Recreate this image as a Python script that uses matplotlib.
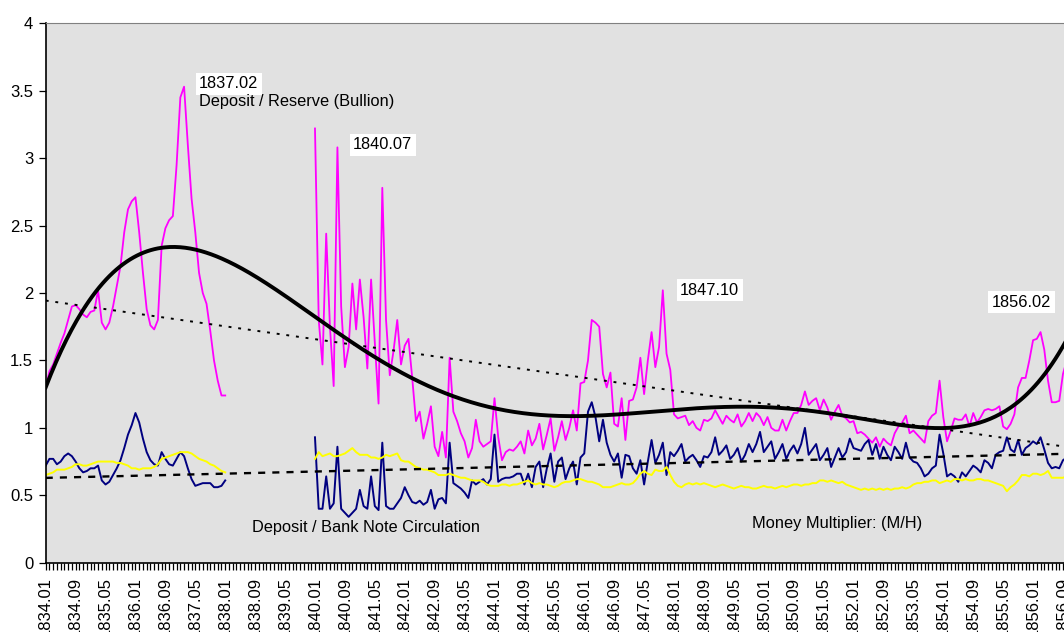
import numpy as np
import matplotlib.pyplot as plt

plt.rcParams['font.family'] = ['Liberation Sans', 'DejaVu Sans']

# monthly data, 1834.01 - 1838.01 and 1840.01 - 1856.10 (gap in between)
reserve_a = [1.30, 1.42, 1.47, 1.55, 1.63, 1.70, 1.80, 1.90, 1.91, 1.88,
             1.84, 1.82, 1.86, 1.87, 2.02, 1.78, 1.73, 1.78, 1.90, 2.05,
             2.20, 2.45, 2.62, 2.68, 2.71, 2.45, 2.15, 1.88, 1.76, 1.73,
             1.80, 2.35, 2.48, 2.54, 2.57, 2.95, 3.45, 3.53, 3.10, 2.70,
             2.45, 2.15, 2.00, 1.92, 1.72, 1.50, 1.35, 1.24, 1.24]
reserve_b = [3.22, 1.80, 1.47, 2.44, 1.75, 1.31, 3.08, 1.90, 1.45, 1.60,
             2.07, 1.73, 2.10, 1.82, 1.44, 2.10, 1.63, 1.18, 2.78, 1.80,
             1.39, 1.57, 1.80, 1.47, 1.61, 1.66, 1.37, 1.05, 1.12, 0.92,
             1.03, 1.16, 0.86, 0.79, 0.97, 0.78, 1.52, 1.12, 1.05, 0.96,
             0.90, 0.78, 0.85, 1.06, 0.90, 0.86, 0.88, 0.90, 1.22, 0.93,
             0.76, 0.82, 0.84, 0.83, 0.86, 0.90, 0.81, 0.98, 0.87, 0.92,
             1.03, 0.84, 0.95, 1.07, 0.83, 0.93, 1.05, 0.91, 1.00, 1.13,
             0.98, 1.33, 1.34, 1.50, 1.80, 1.78, 1.75, 1.40, 1.30, 1.41,
             1.03, 1.01, 1.22, 0.91, 1.20, 1.21, 1.30, 1.52, 1.25, 1.50,
             1.71, 1.45, 1.60, 2.02, 1.55, 1.43, 1.10, 1.07, 1.08, 1.09,
             1.02, 1.05, 1.00, 0.98, 1.06, 1.05, 1.07, 1.13, 1.08, 1.03,
             1.09, 1.06, 1.04, 1.10, 1.01, 1.05, 1.11, 1.05, 1.11, 1.08,
             1.02, 1.08, 1.00, 0.98, 0.98, 1.06, 0.98, 1.05, 1.11, 1.11,
             1.17, 1.27, 1.17, 1.20, 1.22, 1.13, 1.21, 1.15, 1.06, 1.12,
             1.17, 1.09, 1.07, 1.04, 1.05, 0.96, 0.97, 0.95, 0.92, 0.89,
             0.93, 0.86, 0.92, 0.89, 0.87, 0.96, 1.01, 1.04, 1.09, 0.96,
             0.98, 0.95, 0.92, 0.89, 1.05, 1.09, 1.11, 1.35, 1.08, 0.90,
             0.98, 1.07, 1.06, 1.06, 1.10, 1.01, 1.11, 1.04, 1.08, 1.13,
             1.14, 1.13, 1.14, 1.16, 1.01, 0.99, 1.03, 1.10, 1.30, 1.37,
             1.37, 1.50, 1.65, 1.66, 1.71, 1.58, 1.35, 1.19, 1.19, 1.20,
             1.40, 1.50]

notes_a = [0.72, 0.77, 0.77, 0.73, 0.75, 0.79, 0.81, 0.79, 0.75, 0.70,
           0.67, 0.68, 0.70, 0.70, 0.72, 0.61, 0.58, 0.60, 0.65, 0.70,
           0.76, 0.85, 0.95, 1.02, 1.11, 1.04, 0.92, 0.82, 0.76, 0.73,
           0.72, 0.82, 0.77, 0.73, 0.72, 0.77, 0.82, 0.79, 0.70, 0.62,
           0.57, 0.58, 0.59, 0.59, 0.59, 0.56, 0.56, 0.57, 0.61]
notes_b = [0.93, 0.40, 0.40, 0.64, 0.40, 0.44, 0.86, 0.40, 0.37, 0.34,
           0.37, 0.40, 0.54, 0.42, 0.40, 0.64, 0.42, 0.39, 0.89, 0.42,
           0.40, 0.40, 0.44, 0.48, 0.56, 0.50, 0.45, 0.44, 0.46, 0.43,
           0.45, 0.54, 0.40, 0.47, 0.48, 0.44, 0.89, 0.59, 0.57, 0.55,
           0.52, 0.48, 0.61, 0.58, 0.60, 0.62, 0.58, 0.62, 0.95, 0.60,
           0.62, 0.63, 0.63, 0.64, 0.66, 0.66, 0.58, 0.66, 0.56, 0.71,
           0.75, 0.56, 0.70, 0.81, 0.60, 0.75, 0.78, 0.62, 0.70, 0.75,
           0.58, 0.78, 0.81, 1.12, 1.19, 1.08, 0.90, 1.06, 0.89, 0.80,
           0.75, 0.81, 0.63, 0.80, 0.79, 0.70, 0.66, 0.76, 0.58, 0.75,
           0.91, 0.74, 0.80, 0.89, 0.65, 0.82, 0.79, 0.83, 0.88, 0.75,
           0.78, 0.80, 0.76, 0.71, 0.79, 0.78, 0.82, 0.93, 0.80, 0.83,
           0.87, 0.77, 0.80, 0.85, 0.75, 0.80, 0.88, 0.82, 0.88, 0.97,
           0.82, 0.86, 0.90, 0.77, 0.82, 0.88, 0.77, 0.83, 0.87, 0.81,
           0.88, 1.00, 0.80, 0.84, 0.88, 0.76, 0.80, 0.85, 0.71, 0.78,
           0.85, 0.78, 0.82, 0.92, 0.85, 0.84, 0.83, 0.88, 0.91, 0.80,
           0.88, 0.77, 0.86, 0.80, 0.76, 0.86, 0.82, 0.77, 0.89, 0.78,
           0.75, 0.74, 0.70, 0.64, 0.66, 0.70, 0.72, 0.95, 0.81, 0.64,
           0.66, 0.64, 0.60, 0.67, 0.64, 0.68, 0.72, 0.70, 0.67, 0.76,
           0.74, 0.70, 0.80, 0.82, 0.83, 0.93, 0.84, 0.82, 0.91, 0.80,
           0.85, 0.87, 0.90, 0.88, 0.93, 0.84, 0.74, 0.70, 0.71, 0.70,
           0.76, 0.78]

mult_a = [0.65, 0.66, 0.67, 0.69, 0.69, 0.69, 0.70, 0.71, 0.73, 0.73,
          0.72, 0.72, 0.73, 0.74, 0.75, 0.75, 0.75, 0.75, 0.75, 0.74,
          0.74, 0.73, 0.72, 0.70, 0.70, 0.69, 0.70, 0.70, 0.70, 0.71,
          0.73, 0.77, 0.78, 0.79, 0.80, 0.81, 0.82, 0.82, 0.82, 0.81,
          0.79, 0.77, 0.76, 0.75, 0.73, 0.72, 0.70, 0.68, 0.67]
mult_b = [0.77, 0.82, 0.79, 0.80, 0.81, 0.79, 0.79, 0.80, 0.81, 0.83,
          0.85, 0.82, 0.80, 0.80, 0.80, 0.78, 0.78, 0.77, 0.78, 0.80,
          0.79, 0.80, 0.81, 0.76, 0.75, 0.75, 0.73, 0.71, 0.70, 0.69,
          0.69, 0.68, 0.67, 0.65, 0.65, 0.65, 0.66, 0.65, 0.64, 0.63,
          0.63, 0.62, 0.61, 0.61, 0.61, 0.60, 0.58, 0.57, 0.57, 0.57,
          0.58, 0.58, 0.57, 0.58, 0.58, 0.59, 0.60, 0.61, 0.59, 0.58,
          0.59, 0.58, 0.58, 0.57, 0.56, 0.57, 0.59, 0.60, 0.60, 0.61,
          0.62, 0.62, 0.61, 0.60, 0.60, 0.59, 0.58, 0.56, 0.56, 0.56,
          0.57, 0.58, 0.59, 0.58, 0.58, 0.59, 0.62, 0.66, 0.68, 0.66,
          0.65, 0.69, 0.68, 0.68, 0.71, 0.65, 0.60, 0.57, 0.56, 0.58,
          0.59, 0.58, 0.59, 0.58, 0.59, 0.58, 0.57, 0.56, 0.57, 0.58,
          0.57, 0.56, 0.55, 0.56, 0.57, 0.56, 0.56, 0.55, 0.55, 0.56,
          0.57, 0.56, 0.56, 0.55, 0.56, 0.57, 0.56, 0.57, 0.58, 0.58,
          0.57, 0.58, 0.58, 0.59, 0.59, 0.61, 0.61, 0.60, 0.61, 0.60,
          0.59, 0.60, 0.58, 0.57, 0.56, 0.55, 0.54, 0.55, 0.54, 0.55,
          0.54, 0.55, 0.54, 0.55, 0.54, 0.55, 0.55, 0.56, 0.55, 0.56,
          0.58, 0.59, 0.59, 0.60, 0.60, 0.61, 0.61, 0.59, 0.60, 0.61,
          0.60, 0.62, 0.62, 0.61, 0.62, 0.61, 0.61, 0.62, 0.62, 0.61,
          0.61, 0.60, 0.59, 0.58, 0.57, 0.53, 0.56, 0.58, 0.61, 0.65,
          0.65, 0.64, 0.66, 0.66, 0.65, 0.66, 0.68, 0.63, 0.63, 0.63,
          0.63, 0.64]

gap = 23  # 1838.02 - 1839.12 missing
n_cat = 276

def join(a, b):
    return np.array(a + [np.nan] * gap + b, dtype=float)

reserve = join(reserve_a, reserve_b)
notes = join(notes_a, notes_b)
mult = join(mult_a, mult_b)
x = np.arange(len(reserve))

months = ['%d.%02d' % (1834 + k // 12, k % 12 + 1) for k in range(n_cat)]

fig = plt.figure(figsize=(10.64, 6.32), dpi=100)
ax = fig.add_axes([45.7 / 1064, 69.3 / 632, n_cat * 3.74 / 1064, 539.4 / 632])
ax.set_facecolor('#e1e1e1')

ax.plot(x, reserve, color='#ff00ff', lw=1.3)
ax.plot(x, notes, color='#000080', lw=1.4)
ax.plot(x, mult, color='#ffff00', lw=1.4)

# trendlines
ok = ~np.isnan(reserve)
xt = np.linspace(0, n_cat, 600)
poly = np.polyfit(x[ok], reserve[ok], 6)
ax.plot(xt, np.polyval(poly, xt), color='black', lw=2.8)
lin = np.polyfit(x[ok], reserve[ok], 1)
ax.plot(xt, np.polyval(lin, xt), color='black', lw=1.4, ls=(0, (1.5, 3.5)))
ok2 = ~np.isnan(notes)
lin2 = np.polyfit(x[ok2], notes[ok2], 1)
ax.plot(xt, np.polyval(lin2, xt), color='black', lw=1.7, ls=(0, (3, 3)))

ax.set_xlim(0, n_cat)
ax.set_ylim(0, 4)
ax.set_yticks(np.arange(0, 4.01, 0.5))
ax.set_yticklabels(['0', '0.5', '1', '1.5', '2', '2.5', '3', '3.5', '4'])
ax.set_xticks(np.arange(0, n_cat, 8))
ax.set_xticklabels(months[::8], rotation=90)
ax.set_xticks(np.arange(n_cat), minor=True)
ax.tick_params(axis='both', which='both', length=5, width=0.9, direction='out',
               labelsize=12, colors='black')
ax.tick_params(axis='x', pad=5)
ax.tick_params(axis='y', pad=4)
for s in ['left', 'bottom']:
    ax.spines[s].set_color('black')
    ax.spines[s].set_linewidth(1.2)
ax.spines['top'].set_color('#808080')
ax.spines['right'].set_visible(False)

box = dict(facecolor='white', edgecolor='none', pad=2.5)
fs = 11.8
ax.text(41, 3.55, '1837.02', fontsize=fs, va='center', ha='left', bbox=box)
ax.text(41, 3.42, 'Deposit / Reserve (Bullion)', fontsize=fs, va='center', ha='left')
ax.text(82.2, 3.10, '1840.07', fontsize=fs, va='center', ha='left', bbox=box)
ax.text(169.6, 2.02, '1847.10', fontsize=fs, va='center', ha='left', bbox=box)
ax.text(253, 1.93, '1856.02', fontsize=fs, va='center', ha='left', bbox=box)
ax.text(55.2, 0.26, 'Deposit / Bank Note Circulation', fontsize=fs, va='center', ha='left')
ax.text(188.8, 0.29, 'Money Multiplier: (M/H)', fontsize=fs, va='center', ha='left')

fig.savefig('out.png', dpi=100)
